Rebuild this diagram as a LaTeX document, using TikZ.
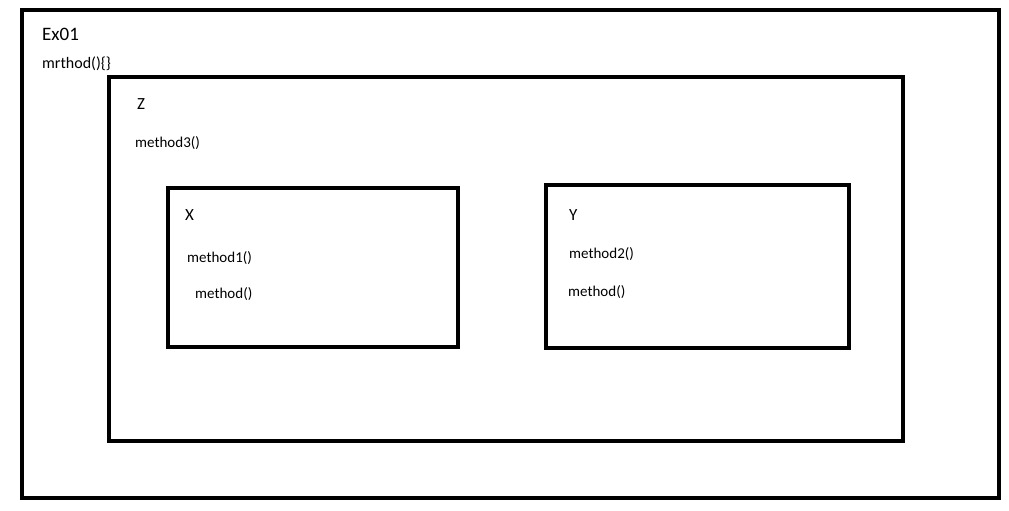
\documentclass[tikz,border=0pt]{standalone}
\usepackage{fontspec}
\setmainfont{Carlito}
\begin{document}
\begin{tikzpicture}[x=1pt,y=-1pt,
  frame/.style={draw=black,line width=4.5pt},
  lbl/.style={anchor=base west,inner sep=0pt,font=\fontsize{#1}{#1}\selectfont}]
\useasboundingbox (0,0) rectangle (1009,511);
\fill[white] (0,0) rectangle (1009,511);
\draw[frame] (22,10) rectangle (999,498);
\draw[frame] (109,77) rectangle (903,441);
\draw[frame] (168,188) rectangle (458,347);
\draw[frame] (546,185) rectangle (849,348);
\node[lbl=19] (ex) at (42,41) {Ex01};
\node[lbl=16] (mr) at (42,68) {mrthod()\{\}};
\node[lbl=17] (z) at (137,109) {Z};
\node[lbl=15] (m3) at (135,147) {method3()};
\node[lbl=17] (x) at (185,220) {X};
\node[lbl=15] (m1) at (187,262) {method1()};
\node[lbl=15] (mx) at (195,298) {method()};
\node[lbl=17] (y) at (569,220) {Y};
\node[lbl=15] (m2) at (569,258) {method2()};
\node[lbl=15] (my) at (568,296) {method()};
\end{tikzpicture}
\end{document}
